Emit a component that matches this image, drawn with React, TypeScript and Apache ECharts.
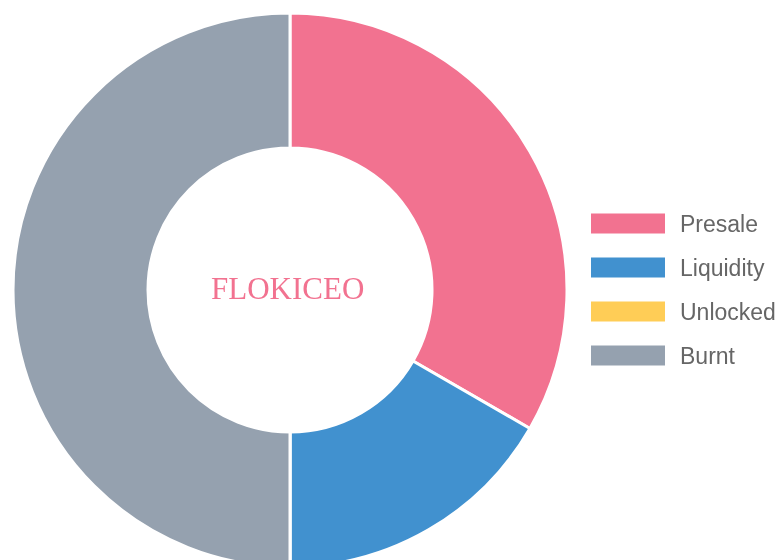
import React, { useEffect, useRef } from "react";
import * as echarts from "echarts";

const categories = ["Presale", "Liquidity", "Unlocked", "Burnt"];
const values = [33.33, 16.67, 0, 50];
const colors = ["#F27290", "#4191CF", "#FFCD56", "#95A1AF"];
const centerLabel = "FLOKICEO";

export default function App() {
  const ref = useRef<HTMLDivElement>(null);
  useEffect(() => {
    if (!ref.current) return;
    const chart = echarts.init(ref.current, undefined, { renderer: "svg" });
    chart.setOption({
      animation: false,
      color: colors,
      legend: {
        orient: "vertical",
        left: 591,
        top: 212,
        padding: 0,
        itemWidth: 74,
        itemHeight: 20,
        itemGap: 21,
        icon: "rect",
        selectedMode: false,
        itemStyle: { borderWidth: 0 },
        textStyle: {
          fontSize: 23,
          color: "#666666",
          fontFamily: "Liberation Sans, Arial, sans-serif",
          padding: [0, 0, 0, 10],
        },
        data: categories,
      },
      graphic: [
        {
          type: "text",
          left: 290 - 79,
          top: 273,
          style: {
            text: centerLabel,
            fill: "#F27290",
            font: "31px 'Liberation Serif', 'Times New Roman', serif",
          },
        },
      ],
      series: [
        {
          type: "pie",
          center: [290, 290],
          radius: [142, 277],
          startAngle: 90,
          clockwise: true,
          label: { show: false },
          labelLine: { show: false },
          emphasis: { disabled: true },
          itemStyle: { borderColor: "#ffffff", borderWidth: 3 },
          data: categories.map((name, i) => ({ name, value: values[i] })),
        },
      ],
    });
    return () => chart.dispose();
  }, []);
  return (
    <div
      ref={ref}
      style={{ position: "fixed", left: 0, top: 0, width: 781, height: 560 }}
    />
  );
}
